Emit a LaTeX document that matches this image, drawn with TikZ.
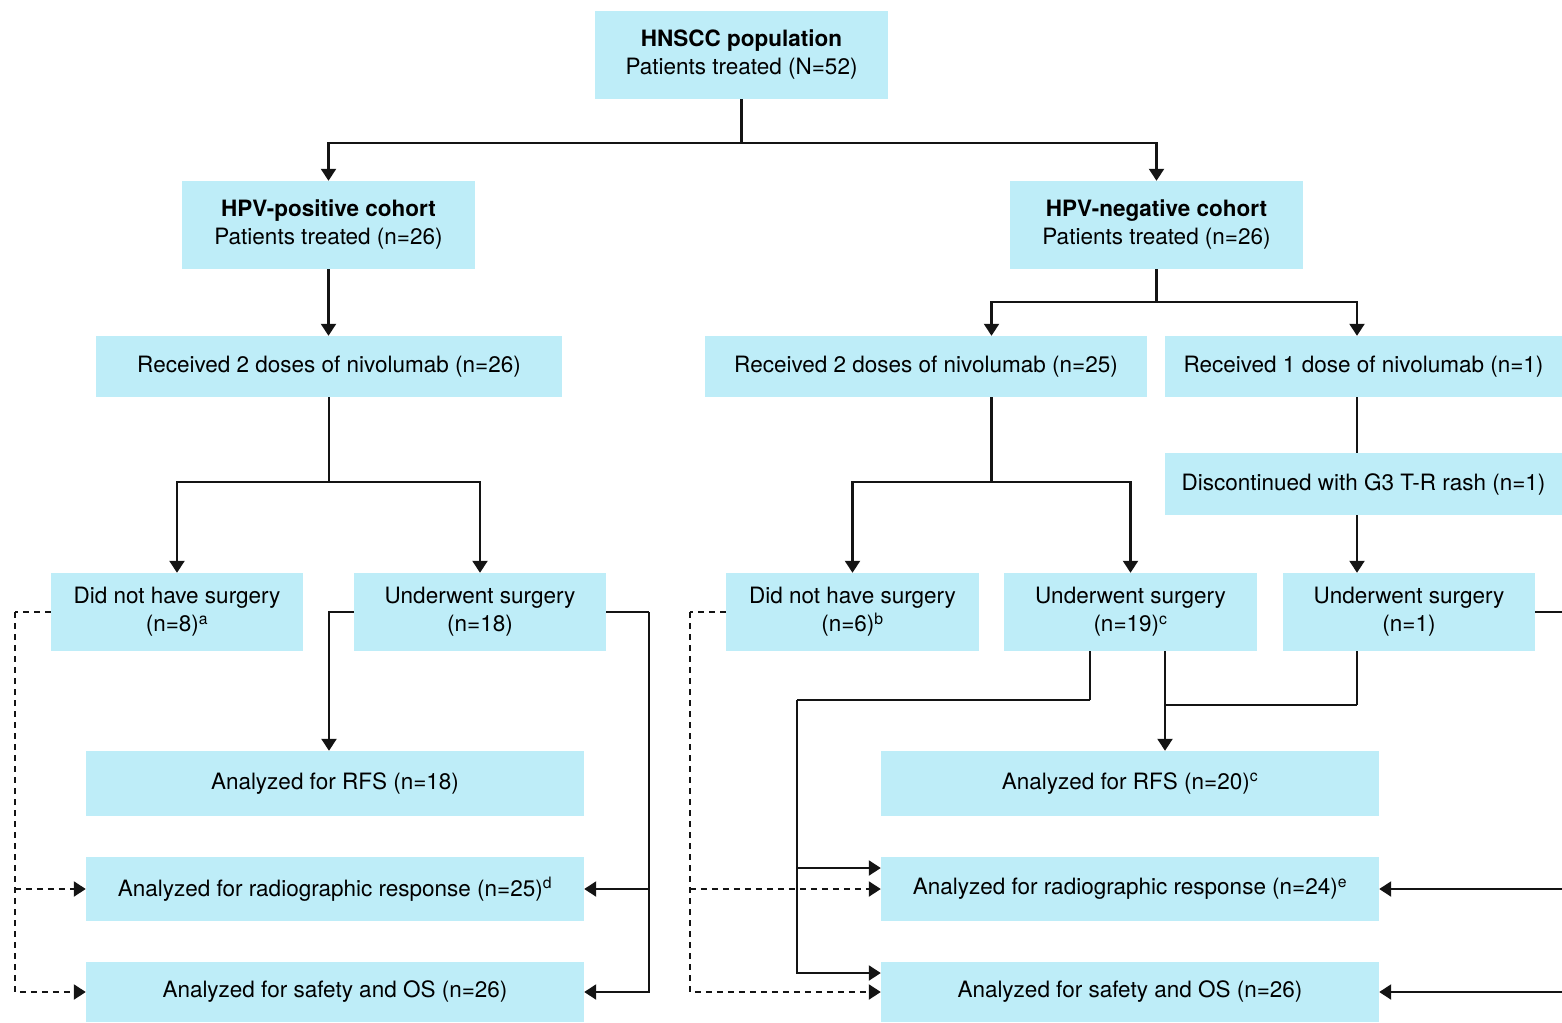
\documentclass[tikz,border=0pt]{standalone}
\usepackage{fontspec}
\setmainfont{TeX Gyre Heros}
\usetikzlibrary{arrows.meta,calc}
\definecolor{boxc}{RGB}{190,237,248}
\definecolor{linec}{RGB}{20,20,20}
\tikzset{
  box/.style={rectangle,fill=boxc,inner sep=0pt,align=center,text=black,
    font=\fontsize{22.5}{28}\selectfont},
  conn/.style={draw=linec,line width=2.2pt},
  arr/.style={conn,-{Triangle[width=15pt,length=12pt]}},
  darr/.style={arr,dash pattern=on 6pt off 5pt},
  dconn/.style={conn,dash pattern=on 6pt off 5pt},
}
\begin{document}
\begin{tikzpicture}[x=1pt,y=-1pt]
\useasboundingbox (0,0) rectangle (1562,1022);
% boxes
\node[box,minimum width=293,minimum height=88] (top) at (741.5,55) {\textbf{HNSCC population}\\Patients treated (N=52)};
\node[box,minimum width=293,minimum height=88] (hpvp) at (328.5,225) {\textbf{HPV-positive cohort}\\Patients treated (n=26)};
\node[box,minimum width=293,minimum height=88] (hpvn) at (1156.5,225) {\textbf{HPV-negative cohort}\\Patients treated (n=26)};
\node[box,minimum width=466,minimum height=61] (r2l) at (329,366.5) {Received 2 doses of nivolumab (n=26)};
\node[box,minimum width=442,minimum height=61] (r2r) at (926,366.5) {Received 2 doses of nivolumab (n=25)};
\node[box,minimum width=397,minimum height=61] (r1) at (1363.5,366.5) {Received 1 dose of nivolumab (n=1)};
\node[box,minimum width=397,minimum height=62] (disc) at (1363.5,484) {Discontinued with G3 T-R rash (n=1)};
\node[box,minimum width=252,minimum height=78] (dnl) at (177,612) {Did not have surgery\\(n=8)\textsuperscript{a}};
\node[box,minimum width=252,minimum height=78] (uwl) at (480,612) {Underwent surgery\\(n=18)};
\node[box,minimum width=253,minimum height=78] (dnr) at (852.5,612) {Did not have surgery\\(n=6)\textsuperscript{b}};
\node[box,minimum width=253,minimum height=78] (uwr) at (1130.5,612) {Underwent surgery\\(n=19)\textsuperscript{c}};
\node[box,minimum width=252,minimum height=78] (uwr2) at (1409,612) {Underwent surgery\\(n=1)};
\node[box,minimum width=498,minimum height=65] (rfsl) at (335,783.5) {Analyzed for RFS (n=18)};
\node[box,minimum width=498,minimum height=64] (radl) at (335,889) {Analyzed for radiographic response (n=25)\textsuperscript{d}};
\node[box,minimum width=498,minimum height=60] (safl) at (335,992) {Analyzed for safety and OS (n=26)};
\node[box,minimum width=498,minimum height=65] (rfsr) at (1130,783.5) {Analyzed for RFS (n=20)\textsuperscript{c}};
\node[box,minimum width=498,minimum height=64] (radr) at (1130,889) {Analyzed for radiographic response (n=24)\textsuperscript{e}};
\node[box,minimum width=498,minimum height=60] (safr) at (1130,992) {Analyzed for safety and OS (n=26)};
% helper coordinates
\coordinate (eu) at (1562,612);
\coordinate (er1) at (1562,889);
\coordinate (er2) at (1562,992);
\coordinate (radrin) at ([yshift=21]radr.west);
\coordinate (safrin) at ([yshift=19]safr.west);
\coordinate (uwrb1) at ([xshift=-40.5]uwr.south);
\coordinate (uwrb2) at ([xshift=34.5]uwr.south);
% top split
\draw[conn] (top.south) -- ++(0,44) coordinate (t1);
\draw[arr] (t1) -| (hpvp.north);
\draw[arr] (t1) -| (hpvn.north);
% HPV+
\draw[arr] (hpvp.south) -- (hpvp.south |- r2l.north);
\draw[conn] (r2l.south) -- ++(0,85) coordinate (t3);
\draw[arr] (t3) -| (dnl.north);
\draw[arr] (t3) -| (uwl.north);
% HPV-
\draw[conn] (hpvn.south) -- ++(0,33) coordinate (t2);
\draw[arr] (t2) -| ([xshift=65.5]r2r.north);
\draw[arr] (t2) -| ([xshift=-6.5]r1.north);
\draw[conn] ([xshift=65.5]r2r.south) -- ++(0,85) coordinate (t4);
\draw[arr] (t4) -| (dnr.north);
\draw[arr] (t4) -| (uwr.north);
\draw[conn] ([xshift=-6.5]r1.south) -- ([xshift=-6.5]disc.north);
\draw[arr] ([xshift=-6.5]disc.south) -- ([xshift=-52]uwr2.north);
% left lower
\draw[arr] (uwl.west) -| (r2l.south |- rfsl.north);
\draw[conn] (uwl.east) -- ++(43,0) coordinate (c1);
\draw[arr] (c1) |- (safl.east);
\draw[arr] (c1 |- radl.east) -- (radl.east);
\draw[dconn] (dnl.west) -- ++(-36,0) coordinate (c2);
\draw[darr] (c2) |- (safl.west);
\draw[darr] (c2 |- radl.west) -- (radl.west);
% right lower
\draw[dconn] (dnr.west) -- ++(-36,0) coordinate (c3);
\draw[darr] (c3) |- (safr.west);
\draw[darr] (c3 |- radr.west) -- (radr.west);
\draw[conn] (uwrb1) -- ++(0,49) coordinate (c4);
\draw[conn] (c4) -- ++(-293,0) coordinate (c5);
\draw[arr] (c5) |- (safrin);
\draw[arr] (c5 |- radrin) -- (radrin);
\draw[arr] (uwrb2) -- (uwrb2 |- rfsr.north);
\draw[conn] ([xshift=-52]uwr2.south) -- ++(0,54) coordinate (c6);
\draw[conn] (c6) -- (c6 -| uwrb2);
\draw[conn] (uwr2.east) -- (eu);
\draw[arr] (er1) -- (radr.east);
\draw[arr] (er2) -- (safr.east);
\end{tikzpicture}
\end{document}
